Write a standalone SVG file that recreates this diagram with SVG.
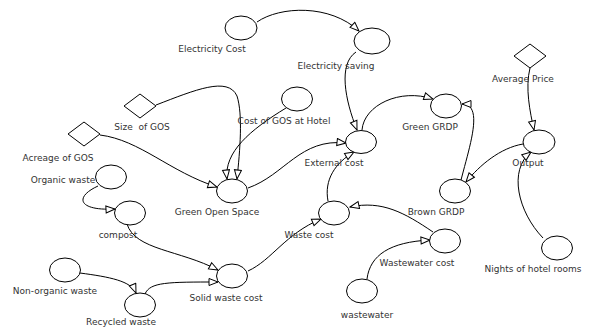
<svg xmlns="http://www.w3.org/2000/svg" width="589" height="327" viewBox="0 0 589 327">
<style>
.n{fill:#fff;stroke:#000;stroke-width:1}
.c{fill:none;stroke:#000;stroke-width:1;marker-end:url(#ah)}
text{font-family:"DejaVu Sans",Verdana,sans-serif;font-size:9px;fill:#333;text-anchor:middle;white-space:pre}
</style>
<defs>
<marker id="ah" markerUnits="userSpaceOnUse" markerWidth="12" markerHeight="10" refX="10" refY="4.5" orient="auto">
<path d="M1,1 L10,4.5 L1,8 Z" fill="#fff" stroke="#000" stroke-width="1"/>
</marker>
</defs>
<rect width="589" height="327" fill="#fff"/>
<g id="connectors">
<path class="c" d="M257,22 C280,6 330,4 359,31"/>
<path class="c" d="M356,52 C338,64 345,100 357,130"/>
<path class="c" d="M362,130 C364,105 400,88 433,99"/>
<path class="c" d="M461,180 C470,145 484,104 462,104"/>
<path class="c" d="M530,68 C525,88 530,112 534,130"/>
<path class="c" d="M523,144 C500,148 480,165 466,182"/>
<path class="c" d="M543,238 C518,212 508,170 531,152"/>
<path class="c" d="M286,108 C250,130 224,152 227,179"/>
<path class="c" d="M156,105 C195,90 228,76 237,96 C243,115 240,150 237,179"/>
<path class="c" d="M100,135 C140,140 170,172 217,187"/>
<path class="c" d="M248,188 C285,175 300,138 346,143"/>
<path class="c" d="M328,201 C324,180 335,163 354,152"/>
<path class="c" d="M433,232 C405,213 382,200 350,207"/>
<path class="c" d="M367,279 C370,255 390,242 430,240"/>
<path class="c" d="M98,186 C74,197 78,211 115,209"/>
<path class="c" d="M127,224 C135,250 180,250 218,270"/>
<path class="c" d="M80,273 C110,277 131,281 136,293"/>
<path class="c" d="M145,294 C150,282 168,282 218,282"/>
<path class="c" d="M248,271 C272,260 285,234 321,219"/>
</g>
<g id="electricity-cost"><ellipse class="n" cx="241" cy="28" rx="16" ry="12"/><text x="212" y="52">Electricity Cost</text></g>
<g id="electricity-saving"><ellipse class="n" cx="372" cy="41" rx="18" ry="13"/><text x="336" y="69">Electricity saving</text></g>
<g id="size-of-gos"><path class="n" d="M124,106 L140,94 L156,106 L140,118 Z"/><text x="142" y="130">Size  of GOS</text></g>
<g id="acreage-of-gos"><path class="n" d="M68,134 L84,122 L100,134 L84,146 Z"/><text x="58" y="161">Acreage of GOS</text></g>
<g id="cost-of-gos-at-hotel"><ellipse class="n" cx="297" cy="99" rx="15.5" ry="12"/><text x="284" y="124">Cost of GOS at Hotel</text></g>
<g id="external-cost"><ellipse class="n" cx="361" cy="142" rx="15.5" ry="11.5"/><text x="334" y="166">External cost</text></g>
<g id="green-grdp"><ellipse class="n" cx="446" cy="106" rx="15.5" ry="12"/><text x="430" y="130">Green GRDP</text></g>
<g id="average-price"><path class="n" d="M514,56 L530,44 L546,56 L530,68 Z"/><text x="523" y="82">Average Price</text></g>
<g id="output"><ellipse class="n" cx="539" cy="142" rx="16" ry="12"/><text x="528" y="166">Output</text></g>
<g id="organic-waste"><ellipse class="n" cx="111" cy="177" rx="15.5" ry="12"/><text x="63" y="183">Organic waste</text></g>
<g id="compost"><ellipse class="n" cx="130" cy="213" rx="15.5" ry="12"/><text x="118" y="238">compost</text></g>
<g id="green-open-space"><ellipse class="n" cx="232" cy="191" rx="15.5" ry="12"/><text x="217" y="215">Green Open Space</text></g>
<g id="non-organic-waste"><ellipse class="n" cx="65" cy="270" rx="15.5" ry="12"/><text x="55" y="294">Non-organic waste</text></g>
<g id="recycled-waste"><ellipse class="n" cx="140" cy="305" rx="15.5" ry="12"/><text x="121" y="325">Recycled waste</text></g>
<g id="solid-waste-cost"><ellipse class="n" cx="232" cy="276" rx="15.5" ry="12"/><text x="226" y="301">Solid waste cost</text></g>
<g id="waste-cost"><ellipse class="n" cx="334" cy="213" rx="15.5" ry="12"/><text x="309" y="238">Waste cost</text></g>
<g id="brown-grdp"><ellipse class="n" cx="455" cy="191" rx="15.5" ry="12"/><text x="436" y="215">Brown GRDP</text></g>
<g id="wastewater-cost"><ellipse class="n" cx="445" cy="241" rx="15.5" ry="12"/><text x="417" y="266">Wastewater cost</text></g>
<g id="wastewater"><ellipse class="n" cx="362" cy="291" rx="15.5" ry="12"/><text x="367" y="318">wastewater</text></g>
<g id="nights-of-hotel-rooms"><ellipse class="n" cx="557" cy="248" rx="15.5" ry="12"/><text x="533" y="272">Nights of hotel rooms</text></g>
</svg>
